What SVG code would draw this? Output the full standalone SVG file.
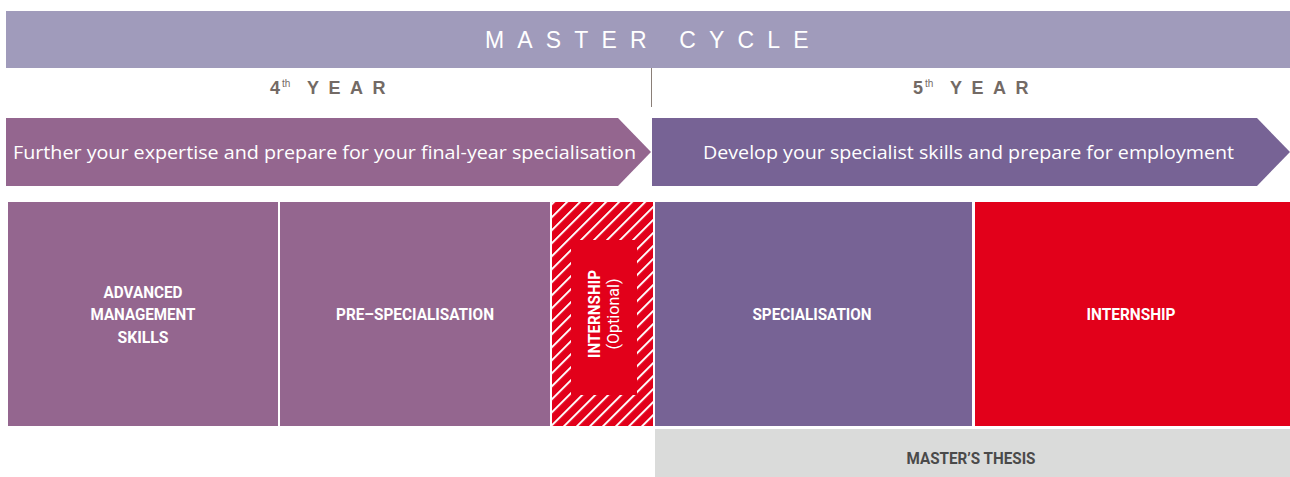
<svg xmlns="http://www.w3.org/2000/svg" width="1290" height="477" viewBox="0 0 1290 477">
<style>
.sub{font-family:"Open Sans","Noto Sans",sans-serif;font-size:18px;fill:#ffffff}
.cond{font-family:Roboto,"Liberation Sans",sans-serif;font-weight:bold;font-size:17px;fill:#ffffff;text-anchor:middle}
.year{font-family:"Liberation Sans",sans-serif;font-weight:bold;font-size:18px;fill:#736a65}
.sup{font-family:"Liberation Sans",sans-serif;font-size:10px;fill:#736a65}
</style>
<defs>
<pattern id="hatch" patternUnits="userSpaceOnUse" width="9.2" height="9.2" patternTransform="rotate(45)">
<rect width="9.2" height="9.2" fill="#e2001a"/>
<line x1="1" y1="0" x2="1" y2="9.2" stroke="#ffffff" stroke-width="2"/>
</pattern>
</defs>
<rect width="1290" height="477" fill="#ffffff"/>
<g id="header">
<rect x="6" y="11" width="1284" height="57" fill="#a09bbb"/>
<text x="485" y="48" font-family="'Liberation Sans',sans-serif" font-size="23" fill="#ffffff" letter-spacing="12.4" textLength="336">MASTER CYCLE</text>
</g>
<g id="years">
<line x1="651.5" y1="68" x2="651.5" y2="107" stroke="#8a7f78" stroke-width="1"/>
<text class="year" x="270" y="94">4</text>
<text class="sup" x="282" y="87">th</text>
<text class="year" x="307" y="94" letter-spacing="9.5">YEAR</text>
<text class="year" x="913" y="94">5</text>
<text class="sup" x="925" y="87">th</text>
<text class="year" x="950" y="94" letter-spacing="9.5">YEAR</text>
</g>
<g id="arrow4">
<polygon points="6,118 618,118 651,152 618,186 6,186" fill="#94668f"/>
<text class="sub" x="13" y="159" textLength="623" lengthAdjust="spacingAndGlyphs">Further your expertise and prepare for your final-year specialisation</text>
</g>
<g id="arrow5">
<polygon points="652,118 1257,118 1290,152 1257,186 652,186" fill="#776395"/>
<text class="sub" x="703" y="159" textLength="531" lengthAdjust="spacingAndGlyphs">Develop your specialist skills and prepare for employment</text>
</g>
<g id="advanced">
<rect x="8" y="202" width="270" height="224" fill="#94668f"/>
<text class="cond" x="143" y="298" textLength="79" lengthAdjust="spacingAndGlyphs">ADVANCED</text>
<text class="cond" x="143" y="320" textLength="105" lengthAdjust="spacingAndGlyphs">MANAGEMENT</text>
<text class="cond" x="143" y="343" textLength="51" lengthAdjust="spacingAndGlyphs">SKILLS</text>
</g>
<g id="prespec">
<rect x="280" y="202" width="270" height="224" fill="#94668f"/>
<text class="cond" x="415" y="320" textLength="158" lengthAdjust="spacingAndGlyphs">PRE–SPECIALISATION</text>
</g>
<g id="internship-optional">
<rect x="552" y="202" width="101" height="224" fill="url(#hatch)"/>
<rect x="571" y="240" width="66" height="155" fill="#e2001a"/>
<text class="cond" transform="translate(600,314) rotate(-90)" x="0" y="0" textLength="88" lengthAdjust="spacingAndGlyphs">INTERNSHIP</text>
<text transform="translate(619,314) rotate(-90)" x="0" y="0" font-family="Roboto,'Liberation Sans',sans-serif" font-size="16" fill="#ffffff" text-anchor="middle" textLength="71" lengthAdjust="spacingAndGlyphs">(Optional)</text>
</g>
<g id="specialisation">
<rect x="655" y="202" width="317" height="224" fill="#776395"/>
<text class="cond" x="812" y="320" textLength="119" lengthAdjust="spacingAndGlyphs">SPECIALISATION</text>
</g>
<g id="internship">
<rect x="975" y="202" width="315" height="224" fill="#e2001a"/>
<text class="cond" x="1131" y="320" textLength="89" lengthAdjust="spacingAndGlyphs">INTERNSHIP</text>
</g>
<g id="thesis">
<rect x="655" y="429" width="635" height="48" fill="#dadbda"/>
<text class="cond" x="971" y="464" style="fill:#4a4a4a" textLength="129" lengthAdjust="spacingAndGlyphs">MASTER’S THESIS</text>
</g>
<g id="connectors"></g>
</svg>
